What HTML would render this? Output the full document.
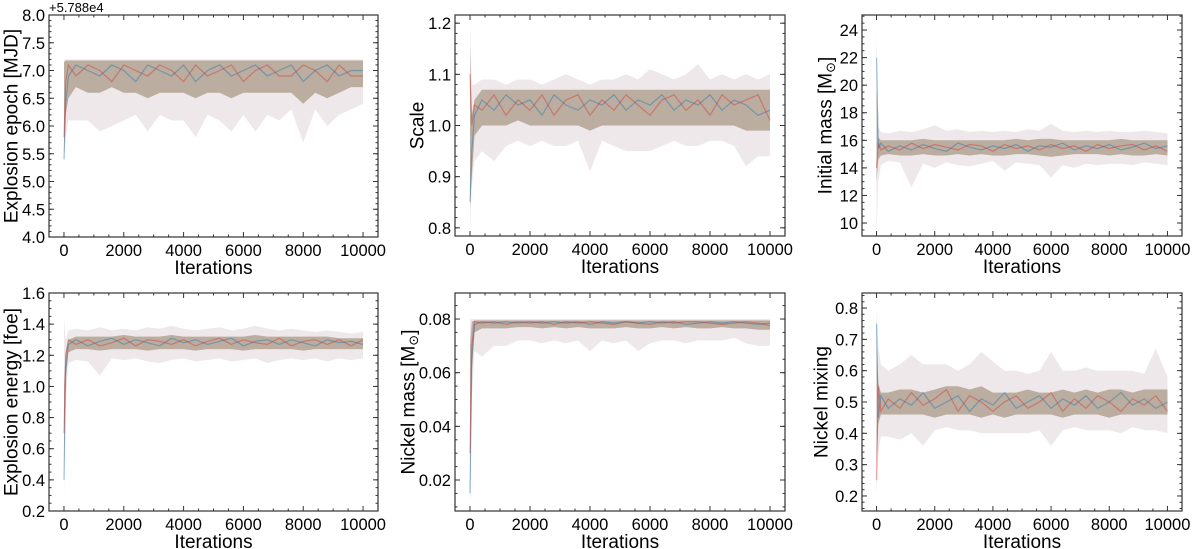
<!DOCTYPE html>
<html><head><meta charset="utf-8">
<style>
html,body{margin:0;padding:0;background:#fff;}
svg{display:block;font-family:"Liberation Sans","DejaVu Sans",sans-serif;}
</style></head>
<body>
<svg id="fig" width="1200" height="549" viewBox="0 0 1200 549" xmlns="http://www.w3.org/2000/svg"></svg>
<script>
const xs = [0,60,150,400,800,1200,1600,2000,2400,2800,3200,3600,4000,4400,4800,5200,5600,6000,6400,6800,7200,7600,8000,8400,8800,9200,9600,10000];
const xTicks = [0,2000,4000,6000,8000,10000];

// Panel 1: explosion epoch
const p1Hi = [7.2,7.2,7.2,7.2,7.2,7.2,7.2,7.2,7.2,7.2,7.2,7.2,7.2,7.2,7.2,7.2,7.2,7.2,7.2,7.2,7.2,7.2,7.2,7.2,7.2,7.2,7.2,7.2];
const p1Lo = [5.35,5.8,6.1,6.1,6.1,5.9,6.0,6.1,6.2,5.9,6.2,6.1,6.1,5.8,6.2,6.1,5.9,6.2,5.9,6.2,6.1,6.3,5.7,6.3,6.0,6.2,6.3,6.4];
const p1CoreHi = [7.15,7.18,7.18,7.18,7.18,7.18,7.18,7.18,7.18,7.18,7.18,7.18,7.18,7.18,7.18,7.18,7.18,7.18,7.18,7.18,7.18,7.18,7.18,7.18,7.18,7.18,7.18,7.18];
const p1CoreLo = [5.5,6.2,6.5,6.7,6.6,6.6,6.7,6.6,6.6,6.5,6.6,6.6,6.6,6.5,6.6,6.6,6.5,6.6,6.6,6.6,6.6,6.6,6.4,6.6,6.5,6.6,6.7,6.7];
const p1A = [5.4,6.4,6.9,7.1,7.0,6.9,7.1,7.0,6.8,7.1,7.0,6.9,7.1,6.8,7.0,7.1,6.9,7.0,7.1,6.9,7.0,7.1,6.8,7.0,7.1,6.9,7.0,7.0];
const p1B = [5.8,6.8,7.1,6.9,7.1,7.0,6.8,7.1,7.0,6.9,7.1,7.0,6.8,7.1,6.9,7.0,7.1,6.8,7.0,7.1,6.9,6.9,7.1,7.0,6.8,7.1,6.9,6.9];
const p1Ticks = [4.0,4.5,5.0,5.5,6.0,6.5,7.0,7.5,8.0];
const p1TickLabels = ["4.0","4.5","5.0","5.5","6.0","6.5","7.0","7.5","8.0"];

// Panel 2: scale
const p2Hi = [1.2,1.08,1.08,1.09,1.09,1.08,1.09,1.09,1.08,1.09,1.1,1.09,1.08,1.09,1.09,1.1,1.09,1.11,1.1,1.09,1.1,1.12,1.09,1.1,1.09,1.1,1.09,1.1];
const p2Lo = [0.8,0.88,0.93,0.95,0.93,0.96,0.97,0.96,0.97,0.96,0.96,0.97,0.91,0.97,0.96,0.95,0.95,0.95,0.96,0.97,0.96,0.96,0.97,0.97,0.96,0.92,0.94,0.94];
const p2CoreHi = [1.15,1.02,1.05,1.07,1.07,1.07,1.07,1.07,1.07,1.07,1.07,1.07,1.07,1.07,1.07,1.07,1.07,1.07,1.07,1.07,1.07,1.07,1.07,1.07,1.07,1.07,1.07,1.07];
const p2CoreLo = [0.84,0.9,0.98,1.0,1.0,1.0,1.01,1.0,1.0,1.0,1.0,1.0,0.99,1.0,1.0,1.0,1.0,1.0,1.0,1.0,1.0,1.0,1.0,1.0,1.0,0.99,0.99,0.99];
const p2A = [0.85,0.95,1.02,1.05,1.03,1.06,1.04,1.05,1.02,1.06,1.04,1.03,1.05,1.04,1.06,1.03,1.05,1.04,1.06,1.03,1.05,1.04,1.06,1.03,1.05,1.04,1.02,1.03];
const p2B = [1.1,1.0,1.04,1.03,1.06,1.02,1.05,1.03,1.06,1.02,1.05,1.06,1.02,1.05,1.03,1.06,1.04,1.02,1.05,1.06,1.03,1.05,1.02,1.06,1.04,1.05,1.06,1.01];
const p2Ticks = [0.8,0.9,1.0,1.1,1.2];
const p2TickLabels = ["0.8","0.9","1.0","1.1","1.2"];

// Panel 3: initial mass
const p3Hi = [24,17,16.6,16.5,16.7,16.6,16.8,17.1,16.7,16.8,16.6,16.7,16.6,16.7,16.6,16.8,16.7,17.2,16.7,16.6,16.7,16.6,16.7,16.6,16.6,16.7,16.6,16.5];
const p3Lo = [9.2,13,14.2,14.5,14.4,12.6,14.3,14.0,14.4,14.2,14.1,14.3,14.5,13.8,14.4,14.3,14.2,13.3,14.2,14.0,14.3,14.2,14.3,14.3,14.2,14.4,14.3,14.2];
const p3CoreHi = [20,16.2,16.0,16.0,16.0,16.0,16.1,16.0,16.0,16.0,16.0,16.0,16.0,16.0,16.1,16.0,16.1,16.1,16.0,16.0,16.0,16.0,16.0,16.1,16.0,16.0,16.0,16.0];
const p3CoreLo = [13,14.6,14.9,15.0,14.9,14.9,15.0,14.9,14.9,15.0,14.9,15.0,14.9,14.9,15.0,15.0,14.9,14.8,14.9,15.0,15.0,15.0,14.9,15.0,14.9,14.9,15.0,14.9];
const p3A = [22,15.4,15.8,15.2,15.6,15.3,15.7,15.4,15.2,15.8,15.5,15.3,15.6,15.4,15.7,15.2,15.6,15.5,15.8,15.3,15.6,15.4,15.7,15.3,15.5,15.8,15.4,15.6];
const p3B = [14,15.8,15.3,15.6,15.3,15.8,15.4,15.7,15.5,15.3,15.7,15.6,15.2,15.7,15.4,15.6,15.3,15.7,15.4,15.6,15.2,15.7,15.4,15.6,15.7,15.3,15.6,15.2];
const p3Ticks = [10,12,14,16,18,20,22,24];
const p3TickLabels = ["10","12","14","16","18","20","22","24"];

// Panel 4: explosion energy
const p4Hi = [1.44,1.3,1.36,1.37,1.36,1.38,1.36,1.37,1.36,1.38,1.37,1.39,1.37,1.36,1.37,1.38,1.36,1.37,1.39,1.37,1.36,1.37,1.36,1.35,1.36,1.35,1.34,1.35];
const p4Lo = [0.3,0.9,1.15,1.17,1.16,1.07,1.18,1.17,1.18,1.16,1.15,1.17,1.18,1.16,1.17,1.18,1.16,1.17,1.18,1.15,1.17,1.18,1.17,1.18,1.16,1.18,1.17,1.18];
const p4CoreHi = [1.0,1.22,1.3,1.32,1.32,1.32,1.32,1.33,1.32,1.32,1.32,1.33,1.32,1.32,1.32,1.32,1.32,1.32,1.33,1.32,1.32,1.32,1.32,1.32,1.32,1.31,1.31,1.31];
const p4CoreLo = [0.5,1.05,1.22,1.24,1.24,1.23,1.24,1.24,1.24,1.23,1.24,1.24,1.24,1.23,1.24,1.24,1.24,1.23,1.24,1.24,1.24,1.24,1.23,1.24,1.24,1.24,1.24,1.24];
const p4A = [0.4,1.1,1.27,1.3,1.26,1.29,1.31,1.27,1.3,1.28,1.26,1.31,1.28,1.3,1.27,1.29,1.31,1.26,1.29,1.3,1.27,1.3,1.28,1.26,1.3,1.28,1.29,1.27];
const p4B = [0.7,1.2,1.3,1.27,1.3,1.26,1.28,1.31,1.26,1.3,1.29,1.27,1.3,1.26,1.29,1.31,1.27,1.3,1.28,1.27,1.31,1.26,1.29,1.3,1.27,1.3,1.26,1.3];
const p4Ticks = [0.2,0.4,0.6,0.8,1.0,1.2,1.4,1.6];
const p4TickLabels = ["0.2","0.4","0.6","0.8","1.0","1.2","1.4","1.6"];

// Panel 5: nickel mass
const p5Hi = [0.08,0.08,0.08,0.08,0.08,0.08,0.08,0.08,0.08,0.08,0.08,0.08,0.08,0.08,0.08,0.08,0.08,0.08,0.08,0.08,0.08,0.08,0.08,0.08,0.08,0.08,0.08,0.08];
const p5Lo = [0.01,0.05,0.068,0.066,0.07,0.07,0.072,0.072,0.071,0.072,0.071,0.072,0.068,0.072,0.071,0.072,0.068,0.071,0.072,0.072,0.071,0.072,0.072,0.072,0.073,0.071,0.07,0.07];
const p5CoreHi = [0.07,0.079,0.0795,0.0795,0.0795,0.0795,0.0795,0.0795,0.0795,0.0795,0.0795,0.0795,0.0795,0.0795,0.0795,0.0795,0.0795,0.0795,0.0795,0.0795,0.0795,0.0795,0.0795,0.0795,0.0795,0.0795,0.0795,0.0795];
const p5CoreLo = [0.012,0.06,0.075,0.0765,0.0765,0.0765,0.077,0.077,0.0765,0.077,0.0765,0.077,0.0765,0.0765,0.0765,0.077,0.0765,0.0765,0.077,0.0765,0.077,0.0765,0.0765,0.077,0.0765,0.0765,0.076,0.076];
const p5A = [0.015,0.065,0.078,0.079,0.0785,0.079,0.0785,0.079,0.0785,0.079,0.0785,0.079,0.078,0.079,0.0785,0.079,0.0785,0.079,0.0785,0.079,0.078,0.0785,0.079,0.0785,0.079,0.0785,0.078,0.0785];
const p5B = [0.03,0.07,0.079,0.0785,0.079,0.078,0.079,0.0785,0.079,0.078,0.079,0.0785,0.079,0.0785,0.078,0.079,0.0785,0.078,0.079,0.0785,0.079,0.079,0.0785,0.078,0.0785,0.079,0.0785,0.0775];
const p5Ticks = [0.02,0.04,0.06,0.08];
const p5TickLabels = ["0.02","0.04","0.06","0.08"];

// Panel 6: nickel mixing
const p6Hi = [0.8,0.68,0.62,0.6,0.62,0.65,0.62,0.62,0.62,0.6,0.62,0.66,0.63,0.6,0.6,0.59,0.6,0.66,0.6,0.6,0.61,0.6,0.6,0.6,0.6,0.59,0.67,0.58];
const p6Lo = [0.2,0.33,0.39,0.39,0.38,0.4,0.36,0.41,0.42,0.41,0.41,0.4,0.4,0.4,0.4,0.4,0.41,0.36,0.41,0.42,0.41,0.41,0.41,0.4,0.42,0.41,0.41,0.4];
const p6CoreHi = [0.7,0.56,0.53,0.53,0.54,0.54,0.53,0.54,0.55,0.55,0.54,0.55,0.53,0.53,0.53,0.54,0.53,0.53,0.54,0.53,0.54,0.53,0.54,0.54,0.53,0.54,0.54,0.54];
const p6CoreLo = [0.3,0.43,0.46,0.46,0.46,0.46,0.46,0.45,0.46,0.46,0.46,0.45,0.46,0.45,0.46,0.46,0.46,0.46,0.45,0.46,0.46,0.46,0.45,0.46,0.46,0.46,0.46,0.46];
const p6A = [0.75,0.45,0.52,0.48,0.51,0.49,0.53,0.48,0.5,0.52,0.47,0.51,0.49,0.53,0.48,0.5,0.52,0.48,0.51,0.49,0.52,0.48,0.5,0.53,0.49,0.51,0.48,0.5];
const p6B = [0.25,0.55,0.47,0.51,0.48,0.53,0.49,0.51,0.54,0.47,0.52,0.5,0.47,0.5,0.52,0.48,0.5,0.53,0.47,0.51,0.48,0.52,0.5,0.47,0.51,0.49,0.52,0.47];
const p6Ticks = [0.2,0.3,0.4,0.5,0.6,0.7,0.8];
const p6TickLabels = ["0.2","0.3","0.4","0.5","0.6","0.7","0.8"];

const NS = "http://www.w3.org/2000/svg";
const svg = document.getElementById('fig');
function mk(tag, attrs, parent){
  const e = document.createElementNS(NS, tag);
  for (const k in attrs) e.setAttribute(k, attrs[k]);
  (parent||svg).appendChild(e);
  return e;
}

const panels = [
  {key:'explosion-epoch', box:[49,378,15,237], y:[4.0,8.0], minor:0.1, label:'Explosion epoch [MJD]', sun:false, hi:p1Hi, lo:p1Lo, ch:p1CoreHi, cl:p1CoreLo, a:p1A, b:p1B, ticks:p1Ticks, tl:p1TickLabels, lx:12, offset:true},
  {key:'scale', box:[455,785,15,236], y:[0.784,1.216], minor:0.02, label:'Scale', sun:false, hi:p2Hi, lo:p2Lo, ch:p2CoreHi, cl:p2CoreLo, a:p2A, b:p2B, ticks:p2Ticks, tl:p2TickLabels, lx:418},
  {key:'initial-mass', box:[862,1182,15,236], y:[9.06,25.09], minor:0.5, label:'Initial mass [M', sun:true, hi:p3Hi, lo:p3Lo, ch:p3CoreHi, cl:p3CoreLo, a:p3A, b:p3B, ticks:p3Ticks, tl:p3TickLabels, lx:826},
  {key:'explosion-energy', box:[49,378,293,511], y:[0.2,1.6], minor:0.05, label:'Explosion energy [foe]', sun:false, hi:p4Hi, lo:p4Lo, ch:p4CoreHi, cl:p4CoreLo, a:p4A, b:p4B, ticks:p4Ticks, tl:p4TickLabels, lx:12},
  {key:'nickel-mass', box:[455,785,293,511], y:[0.00845,0.0897], minor:0.005, label:'Nickel mass [M', sun:true, hi:p5Hi, lo:p5Lo, ch:p5CoreHi, cl:p5CoreLo, a:p5A, b:p5B, ticks:p5Ticks, tl:p5TickLabels, lx:409},
  {key:'nickel-mixing', box:[862,1182,293,511], y:[0.152,0.848], minor:0.02, label:'Nickel mixing', sun:false, hi:p6Hi, lo:p6Lo, ch:p6CoreHi, cl:p6CoreLo, a:p6A, b:p6B, ticks:p6Ticks, tl:p6TickLabels, lx:822}
];

panels.forEach(p => {
  const [L,R,T,B] = p.box;
  const g = mk('g', {});
  
  
  const sx = v => L + (v + 500) / 11000 * (R - L);
  const sy = v => B - (v - p.y[0]) / (p.y[1] - p.y[0]) * (B - T);
  const band = (hi, lo) => {
    let d = 'M' + xs.map((x,i)=> sx(x).toFixed(1)+','+sy(hi[i]).toFixed(1)).join('L');
    for (let i = xs.length-1; i >= 0; i--) d += 'L' + sx(xs[i]).toFixed(1)+','+sy(lo[i]).toFixed(1);
    return d + 'Z';
  };
  const line = arr => 'M' + xs.map((x,i)=> sx(x).toFixed(1)+','+sy(arr[i]).toFixed(1)).join('L');

  const clipId = 'clip-' + p.key;
  const cp = mk('clipPath', {id: clipId}, g);
  mk('rect', {x:L, y:T, width:R-L, height:B-T}, cp);
  const dg = mk('g', {'clip-path':'url(#'+clipId+')'}, g);

  const outer = mk('path', {d: band(p.hi, p.lo), fill:'#e3d8dc', 'fill-opacity':'0.6'}, dg);
  
  
  const core = mk('path', {d: band(p.ch, p.cl), fill:'#a99a86', 'fill-opacity':'0.75'}, dg);
  
  
  const ca = mk('path', {d: line(p.a), fill:'none', stroke:'#1f77b4', 'stroke-opacity':'0.45', 'stroke-width':'1.2'}, dg);
  
  
  const cb = mk('path', {d: line(p.b), fill:'none', stroke:'#d62728', 'stroke-opacity':'0.4', 'stroke-width':'1.2'}, dg);
  
  

  const fr = mk('rect', {x:L, y:T, width:R-L, height:B-T, fill:'none', stroke:'#333', 'stroke-width':'1.2'}, g);
  
  

  for (let v = -500; v <= 10500; v += 500) {
    const X = sx(v); if (X < L+1 || X > R-1) continue;
    const major = v % 2000 === 0 && v >= 0;
    const len = major ? 5 : 2.5;
    mk('line', {x1:X, x2:X, y1:B, y2:B-len, stroke:'#333', 'stroke-width':'1'}, g);
    mk('line', {x1:X, x2:X, y1:T, y2:T+len, stroke:'#333', 'stroke-width':'1'}, g);
  }
  xTicks.forEach(v => {
    const t = mk('text', {x:sx(v), y:B+19, 'text-anchor':'middle', 'font-size':'16.5', fill:'#000'}, g);
    t.textContent = String(v);
    
    
  });
  const xl = mk('text', {x:(L+R)/2, y:B+37, 'text-anchor':'middle', 'font-size':'19', fill:'#000'}, g);
  xl.textContent = 'Iterations';
  
  

  const n = Math.round((p.y[1]-p.y[0])/p.minor)+2;
  const start = Math.ceil(p.y[0]/p.minor - 1e-6);
  for (let k = start; k < start + n; k++) {
    const v = k * p.minor; const Y = sy(v);
    if (Y < T+1 || Y > B-1) continue;
    mk('line', {x1:L, x2:L+2.5, y1:Y, y2:Y, stroke:'#333', 'stroke-width':'1'}, g);
    mk('line', {x1:R, x2:R-2.5, y1:Y, y2:Y, stroke:'#333', 'stroke-width':'1'}, g);
  }
  p.ticks.forEach((v,i) => {
    const Y = sy(v);
    mk('line', {x1:L, x2:L+5, y1:Y, y2:Y, stroke:'#333', 'stroke-width':'1'}, g);
    mk('line', {x1:R, x2:R-5, y1:Y, y2:Y, stroke:'#333', 'stroke-width':'1'}, g);
    const t = mk('text', {x:L-4, y:Y+6, 'text-anchor':'end', 'font-size':'16.5', fill:'#000'}, g);
    t.textContent = p.tl[i];
    
    
  });
  const cy = (T+B)/2;
  const yl = mk('text', {x:p.lx, y:cy, 'text-anchor':'middle', 'font-size':'19', fill:'#000', transform:'rotate(-90 '+p.lx+' '+cy+')', 'dominant-baseline':'central'}, g);
  yl.textContent = p.label;
  if (p.sun) {
    const s = mk('tspan', {'font-size':'13', dy:'4'}, yl);
    s.textContent = '\u2299';
    const e = mk('tspan', {dy:'-4'}, yl);
    e.textContent = ']';
  }
  
  
  if (p.offset) {
    const o = mk('text', {x:L, y:T-3, 'font-size':'13', fill:'#000'}, g);
    o.textContent = '+5.788e4';
    
    
  }
});
</script>
</body></html>
